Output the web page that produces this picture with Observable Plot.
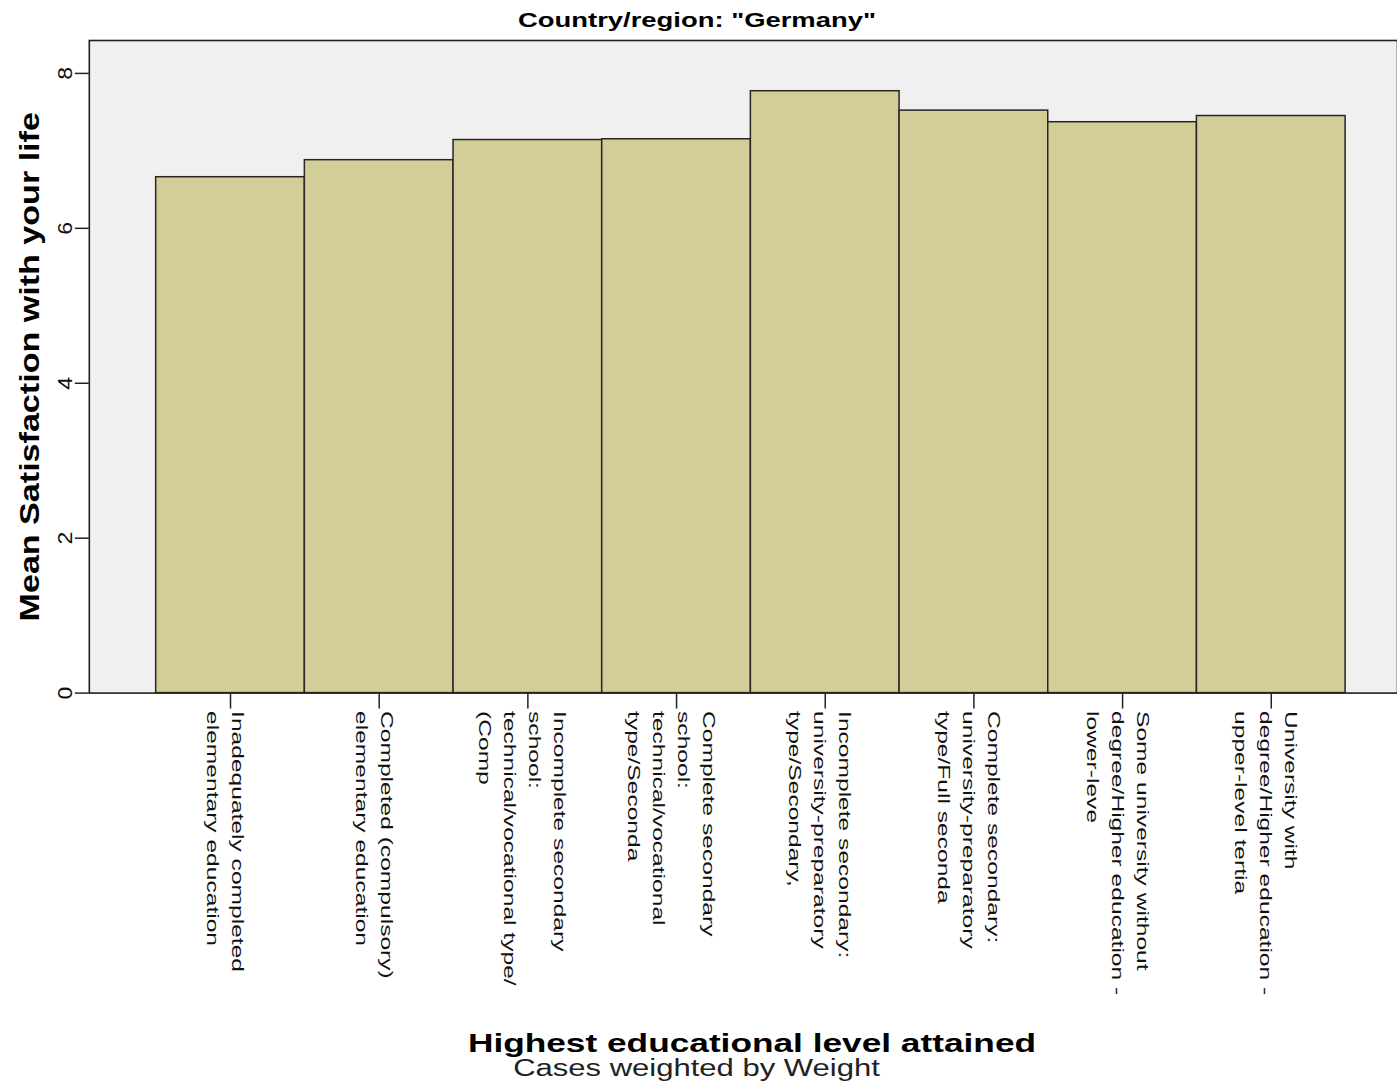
<!DOCTYPE html>
<html><head><meta charset="utf-8">
<script src="https://cdn.jsdelivr.net/npm/d3@7"></script>
<script src="https://cdn.jsdelivr.net/npm/@observablehq/plot@0.6"></script>
<style>
html,body{margin:0;padding:0;background:#fff;overflow:hidden;width:1397px;height:1085px;position:relative;font-family:"Liberation Sans",Arial,sans-serif;}
.t{position:absolute;white-space:nowrap;text-align:center;color:#000;transform-origin:50% 50%;}
#title{left:0;width:1394px;top:10px;font-size:20px;line-height:20px;font-weight:bold;transform:scaleX(1.37);}
#xlabel{left:89px;width:1326px;top:1031px;font-size:25px;line-height:25px;font-weight:bold;transform:scaleX(1.41);}
#caption{left:0;width:1393px;top:1057px;font-size:23.5px;line-height:23.5px;transform:scaleX(1.32);color:#222;}
#chart{position:absolute;left:0;top:38px;}
</style></head><body>
<div id="title" class="t">Country/region: "Germany"</div>
<div id="chart"></div>
<div id="xlabel" class="t">Highest educational level attained</div>
<div id="caption" class="t">Cases weighted by Weight</div>
<script>
const categories = ["c1","c2","c3","c4","c5","c6","c7","c8"];
const tickLabels = [
  "Inadequately completed\nelementary education",
  "Completed (compulsory)\nelementary education",
  "Incomplete secondary\nschool:\ntechnical/vocational type/\n(Comp",
  "Complete secondary\nschool:\ntechnical/vocational\ntype/Seconda",
  "Incomplete secondary:\nuniversity-preparatory\ntype/Secondary,",
  "Complete secondary:\nuniversity-preparatory\ntype/Full seconda",
  "Some university without\ndegree/Higher education -\nlower-leve",
  "University with\ndegree/Higher education -\nupper-level tertia"
];
const values = [6.66, 6.88, 7.14, 7.15, 7.77, 7.52, 7.37, 7.45];
const yTicks = [0, 2, 4, 6, 8];
const yLabel = "Mean Satisfaction with your life";

const data = categories.map((c, i) => ({cat: c, label: tickLabels[i], value: values[i]}));

const chart = Plot.plot({
  width: 1400,
  height: 960,
  marginTop: 2,
  marginBottom: 304,
  marginLeft: 89,
  marginRight: 0,
  style: {fontFamily: '"Liberation Sans", Arial, sans-serif', background: "transparent", color: "#111"},
  x: {domain: categories, range: [156, 1348], padding: 0},
  y: {domain: [0, 8.425]},
  marks: [
    Plot.frame({fill: "#f0f0f0", stroke: "#1e1e1e", strokeWidth: 1.6}),
    Plot.barY(data, {x: "cat", y: "value", fill: "#d3ce97", stroke: "#262626", strokeWidth: 1.5}),
    Plot.axisY({ticks: yTicks, tickSize: 14, label: null, stroke: "#222", strokeWidth: 1.5, text: null}),
    Plot.text(yTicks, {y: d => d, text: d => String(d), frameAnchor: "left", dx: -17, rotate: -90, textAnchor: "middle", lineAnchor: "bottom", fontSize: 21, fill: "#111"}),
    Plot.axisX({tickSize: 16, tickFormat: () => "", label: null, stroke: "#222", strokeWidth: 1.5}),
    Plot.text(data, {x: "cat", text: "label", frameAnchor: "bottom", dy: 18, dx: -3, rotate: 90, textAnchor: "start", lineAnchor: "middle", lineHeight: 1.47, fontSize: 17, fill: "#111"}),
    Plot.text([yLabel], {frameAnchor: "left", dx: -59, rotate: -90, textAnchor: "middle", lineAnchor: "middle", fontSize: 28, fontWeight: "bold", fill: "#000"})
  ]
});
document.getElementById("chart").appendChild(chart);

// Horizontal glyph stretch, imitating the wide SPSS text rendering
chart.querySelectorAll("text").forEach(t => {
  const tr = t.getAttribute("transform") || "";
  const txt = t.textContent;
  let sx = null;
  if (txt === yLabel) sx = 1.22;
  else if (/rotate\(90\)/.test(tr)) sx = 1.45;
  else if (/rotate\(-90\)/.test(tr)) sx = 1.1;
  if (sx) t.setAttribute("transform", tr + ` scale(${sx},1)`);
});
</script>
</body></html>
